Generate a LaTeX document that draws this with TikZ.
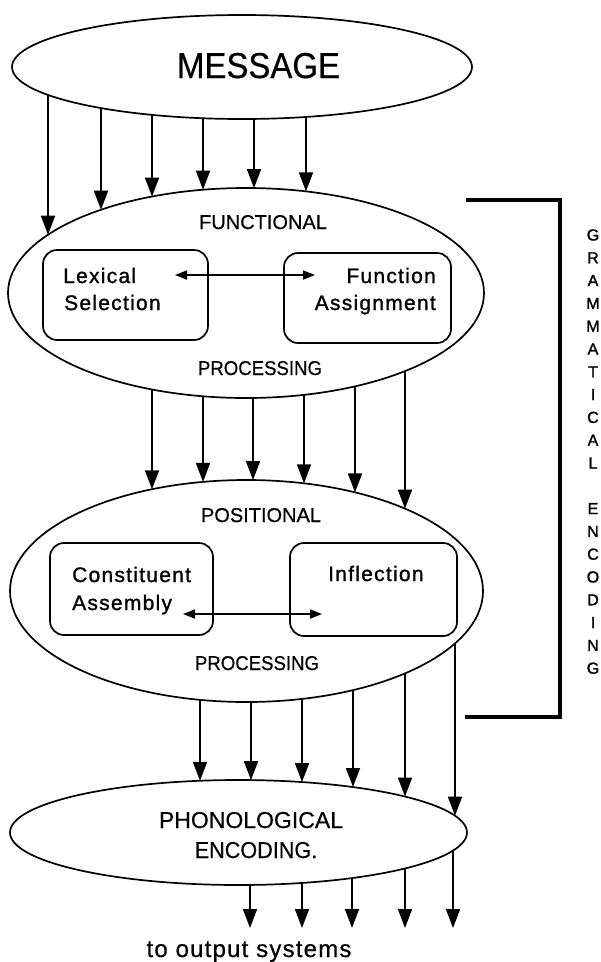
\documentclass[tikz,border=0pt]{standalone}
\usepackage{fontspec}
\setmainfont{Liberation Sans}
\newfontfamily\labfont[FakeBold=0.5]{Liberation Sans}
\newfontfamily\spacedfont[LetterSpace=6,FakeBold=1.2]{Liberation Sans}
\newfontfamily\outfont[LetterSpace=5,FakeBold=0.6]{Liberation Sans}
\newfontfamily\letfont[FakeBold=1.5]{Liberation Sans}
\usetikzlibrary{shapes.geometric,arrows.meta}
\begin{document}
\begin{tikzpicture}[x=1pt,y=-1pt,
  ell/.style={draw, ellipse, line width=1.7pt, inner sep=0pt, outer sep=0pt},
  procbox/.style={draw, rectangle, rounded corners=14pt, line width=1.7pt, inner sep=0pt, outer sep=0pt},
  arr/.style={line width=1.7pt, -{Triangle[width=14pt,length=19pt]}},
  darr/.style={line width=1.7pt, {Triangle[width=9pt,length=12pt]}-{Triangle[width=9pt,length=12pt]}},
  bracket/.style={line width=4pt, line join=miter},
  lbl/.style={inner sep=0pt, anchor=base, font=\labfont\fontsize{20}{24}\selectfont},
  boxtxt/.style={inner sep=0pt, font=\spacedfont\fontsize{21}{25}\selectfont},
  letter/.style={inner sep=0pt, anchor=center, font=\letfont\fontsize{16}{19}\selectfont}]
\useasboundingbox (0,0) rectangle (601,962);

% ellipses
\node[ell, minimum width=460pt, minimum height=104pt] (msg) at (242,67) {};
\node[ell, minimum width=476pt, minimum height=210pt] (fun) at (246,293) {};
\node[ell, minimum width=473pt, minimum height=222pt] (pos) at (246.5,591) {};
\node[ell, minimum width=457pt, minimum height=105pt] (pho) at (238.5,832.5) {};

% boxes
\node[procbox, minimum width=165pt, minimum height=90pt] (lex) at (125.5,295) {};
\node[procbox, minimum width=167pt, minimum height=90pt] (fa) at (367.5,298) {};
\node[procbox, minimum width=163pt, minimum height=92pt] (con) at (131.5,589) {};
\node[procbox, minimum width=167pt, minimum height=93pt] (inf) at (373.5,589.5) {};

% labels
\node[lbl, font=\labfont\fontsize{36}{40}\selectfont] (msgT) at (258.5,78) {\scalebox{0.915}[1]{MESSAGE}};
\node[lbl] (funT) at (263,229) {FUNCTIONAL};
\node[lbl] (proc1) at (260,375) {\scalebox{0.93}[1]{PROCESSING}};
\node[lbl] (posT) at (261,522) {POSITIONAL};
\node[lbl] (proc2) at (257,670) {\scalebox{0.93}[1]{PROCESSING}};
\node[lbl, font=\labfont\fontsize{23}{27}\selectfont] (phoT1) at (251,828) {PHONOLOGICAL};
\node[lbl, font=\labfont\fontsize{23}{27}\selectfont] (phoT2) at (256,858) {\scalebox{0.94}[1]{ENCODING.}};
\node[inner sep=0pt, anchor=base, font=\outfont\fontsize{24}{28}\selectfont] (out) at (249,957) {to output systems};

% box texts
\node[boxtxt, anchor=base west] (lexA) at (63,283) {Lexical};
\node[boxtxt, anchor=base west] (lexB) at (64,310) {Selection};
\node[boxtxt, anchor=base east] (faA) at (436,283) {Function};
\node[boxtxt, anchor=base east] (faB) at (436,310) {Assignment};
\node[boxtxt, anchor=base west] (conA) at (72,582) {Constituent};
\node[boxtxt, anchor=base west] (conB) at (72,610) {Assembly};
\node[boxtxt, anchor=base west] (infA) at (328,581) {Inflection};

% double arrows
\coordinate (d1l) at (175,275);
\coordinate (d1r) at (315,275);
\draw[darr] (d1l) -- (d1r);
\coordinate (d2l) at (183,614);
\coordinate (d2r) at (322,614);
\draw[darr] (d2l) -- (d2r);

% arrows message -> functional
\foreach \x [count=\i] in {48,101,152,203,254,306} {
  \coordinate (a\i s) at (\x,{67+52*sqrt(1-((\x-242)/230)^2)});
  \coordinate (a\i e) at (\x,{293-105*sqrt(1-((\x-246)/238)^2)});
  \draw[arr] (a\i s) -- (a\i e);
}
% functional -> positional
\foreach \x [count=\i] in {152,203,253,304,355,405} {
  \coordinate (b\i s) at (\x,{293+105*sqrt(1-((\x-246)/238)^2)});
  \coordinate (b\i e) at (\x,{591-111*sqrt(1-((\x-246.5)/236.5)^2)});
  \draw[arr] (b\i s) -- (b\i e);
}
% positional -> phonological
\foreach \x [count=\i] in {200,251,302,353,405,455} {
  \coordinate (c\i s) at (\x,{591+111*sqrt(1-((\x-246.5)/236.5)^2)});
  \coordinate (c\i e) at (\x,{832.5-52.5*sqrt(1-((\x-238.5)/228.5)^2)});
  \draw[arr] (c\i s) -- (c\i e);
}
% phonological -> output
\foreach \x [count=\i] in {250,302,352,405,453} {
  \coordinate (o\i s) at (\x,{832.5+52.5*sqrt(1-((\x-238.5)/228.5)^2)});
  \coordinate (o\i e) at (\x,928);
  \draw[arr] (o\i s) -- (o\i e);
}

% bracket
\coordinate (bk1) at (466,200);
\coordinate (bk2) at (560,200);
\coordinate (bk3) at (560,717);
\coordinate (bk4) at (465,717);
\draw[bracket] (bk1) -- (bk2) -- (bk3) -- (bk4);

% vertical text
\foreach \l [count=\i from 0] in {G,R,A,M,M,A,T,I,C,A,L} {
  \node[letter] (g\i) at (593,{235+22.8*\i}) {\l};
}
\foreach \l [count=\i from 12] in {E,N,C,O,D,I,N,G} {
  \node[letter] (e\i) at (593,{235+22.8*\i}) {\l};
}
\end{tikzpicture}
\end{document}
